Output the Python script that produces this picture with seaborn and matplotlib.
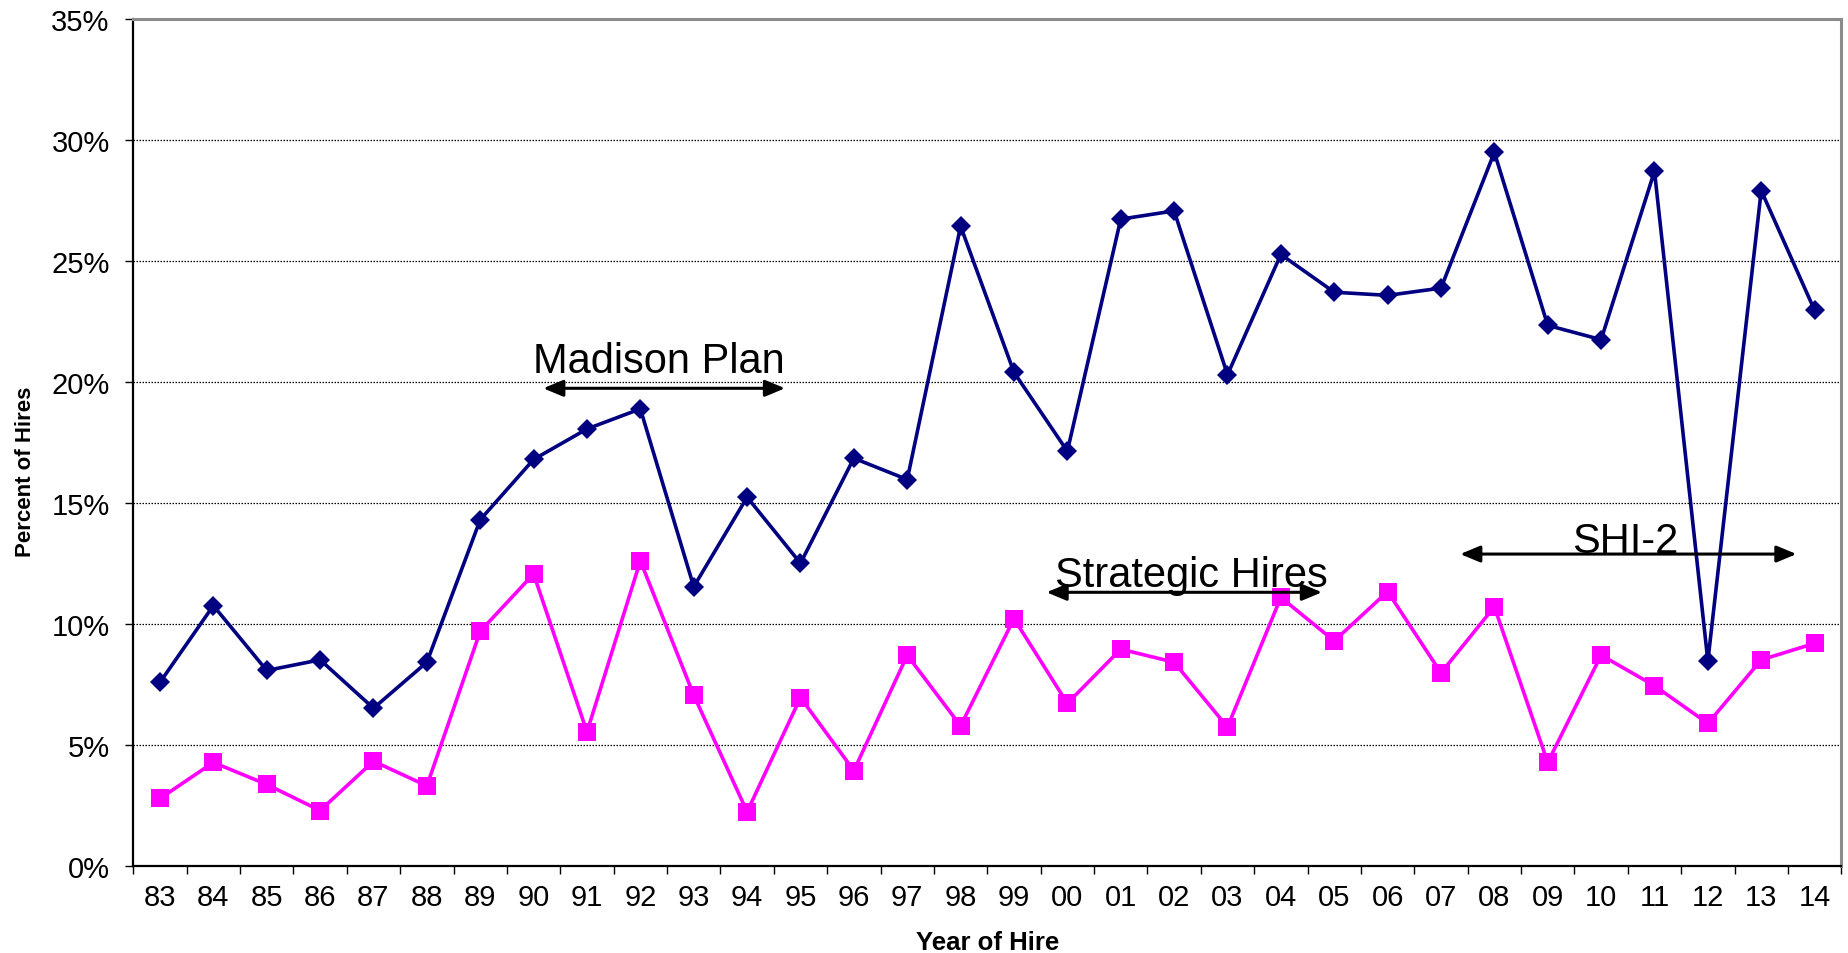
import numpy as np
import pandas as pd
import matplotlib
matplotlib.use("Agg")
import matplotlib.pyplot as plt
import seaborn as sns

# Year of hire (two-digit labels)
years = ["83", "84", "85", "86", "87", "88", "89", "90", "91", "92", "93", "94",
         "95", "96", "97", "98", "99", "00", "01", "02", "03", "04", "05", "06",
         "07", "08", "09", "10", "11", "12", "13", "14"]

# Percent of hires, upper series (navy diamonds)
series_a = [7.59, 10.76, 8.08, 8.52, 6.52, 8.42, 14.31, 16.80, 18.06, 18.89, 11.54, 15.24,
            12.51, 16.85, 15.97, 26.44, 20.40, 17.14, 26.73, 27.07, 20.30, 25.27, 23.71, 23.58,
            23.88, 29.49, 22.34, 21.75, 28.71, 8.47, 27.91, 22.96]

# Percent of hires, lower series (magenta squares)
series_b = [2.79, 4.28, 3.37, 2.29, 4.33, 3.31, 9.70, 12.07, 5.54, 12.61, 7.06, 2.24,
            6.96, 3.94, 8.71, 5.79, 10.22, 6.72, 8.96, 8.42, 5.74, 11.10, 9.30, 11.34,
            7.98, 10.71, 4.28, 8.71, 7.45, 5.89, 8.52, 9.20]

y_ticks = [0, 5, 10, 15, 20, 25, 30, 35]

# Program periods: (label, start, end, arrow level, label baseline, label centre)
periods = [
    ("Madison Plan", 7.18, 11.71, 19.74, 20.41, 9.35),
    ("Strategic Hires", 16.61, 21.77, 11.31, 11.58, 19.32),
    ("SHI-2", 24.36, 30.66, 12.89, 12.99, 27.45),
]

sns.set_theme(style="white")
plt.rcParams["font.family"] = ["Liberation Sans", "DejaVu Sans"]

df = pd.DataFrame({"pos": np.arange(len(years)), "a": series_a, "b": series_b})

fig = plt.figure(figsize=(18.49, 9.54), dpi=100)
ax = fig.add_axes([133.3 / 1849, (954 - 867) / 954, 1708 / 1849, 847 / 954])

sns.lineplot(data=df, x="pos", y="a", ax=ax, color="#000080", lw=2.6,
             marker="D", markersize=10.5, markeredgewidth=0, zorder=4)
sns.lineplot(data=df, x="pos", y="b", ax=ax, color="#FF00FF", lw=2.6,
             marker="s", markersize=12.5, markeredgewidth=0, zorder=3)

ax.set_xlim(-0.5, len(years) - 0.5)
ax.set_ylim(0, 35)

# Category boundaries carry the tick marks; labels sit at category centres
ax.set_xticks(np.arange(-0.5, len(years), 1.0))
ax.set_xticklabels([])
ax.set_xticks(np.arange(len(years)), minor=True)
ax.set_xticklabels(years, minor=True)
ax.tick_params(axis="x", which="major", direction="out", length=5.5, width=1,
               color="black", bottom=True)
ax.tick_params(axis="x", which="minor", length=0, pad=12, labelsize=21,
               labelcolor="black", bottom=True)

ax.set_yticks(y_ticks)
ax.set_yticklabels([f"{v}%" for v in y_ticks])
ax.tick_params(axis="y", direction="out", length=6, width=1, color="black",
               pad=11, labelsize=21, labelcolor="black", left=True)

ax.yaxis.grid(True, color="black", linestyle=(0, (1.2, 1.2)), linewidth=0.9)
ax.xaxis.grid(False)
ax.set_axisbelow(True)

for side in ("left", "bottom"):
    ax.spines[side].set_color("black")
    ax.spines[side].set_linewidth(1.6)
for side in ("top", "right"):
    ax.spines[side].set_color("#8c8c8c")
    ax.spines[side].set_linewidth(2.2)

ax.set_xlabel("Year of Hire", fontsize=18.5, fontweight="bold", color="black")
ax.set_ylabel("Percent of Hires", fontsize=16, fontweight="bold", color="black")
ax.xaxis.set_label_coords(0.5, -0.075)
ax.yaxis.set_label_coords(-0.0572, 0.466)

for label, x0, x1, y_arrow, y_text, x_text in periods:
    ax.annotate("", xy=(x1, y_arrow), xytext=(x0, y_arrow),
                arrowprops=dict(arrowstyle="<|-|>,head_length=0.6,head_width=0.25",
                                color="black", lw=2.2, mutation_scale=20,
                                shrinkA=0, shrinkB=0), zorder=6)
    ax.text(x_text, y_text, label, ha="center", va="baseline", fontsize=30,
            color="black", zorder=6)

fig.savefig("out.png", dpi=100, facecolor="white")
